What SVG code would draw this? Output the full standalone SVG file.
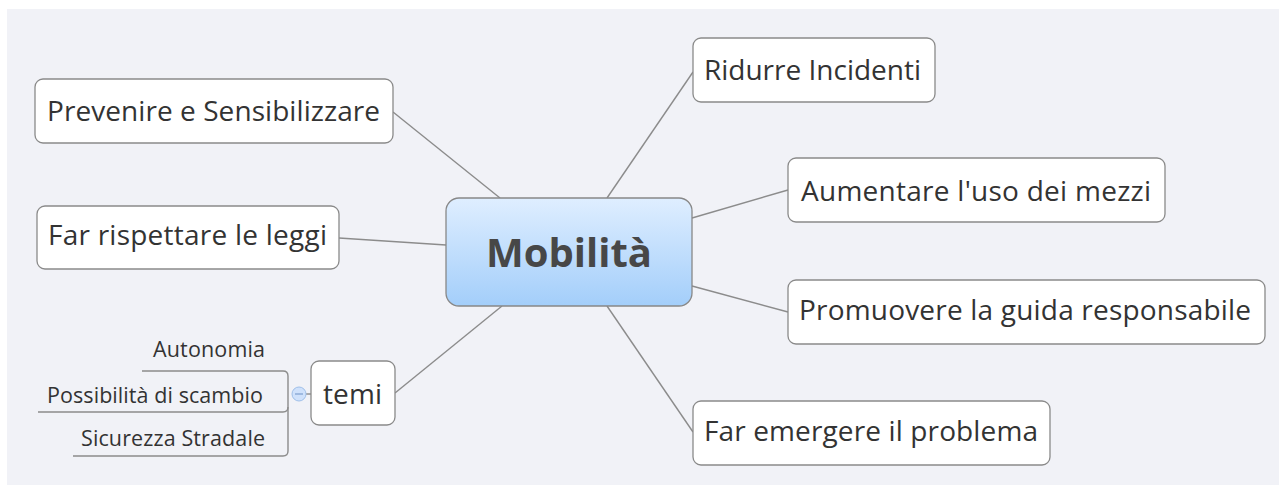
<svg xmlns="http://www.w3.org/2000/svg" width="1279" height="485" viewBox="0 0 1279 485">
<defs>
<linearGradient id="cg" x1="0" y1="0" x2="0" y2="1">
<stop offset="0" stop-color="#dfeeff"/>
<stop offset="1" stop-color="#a3cefa"/>
</linearGradient>
<style>
.box{fill:#ffffff;stroke:#8a8a8a;stroke-width:1.3}
.t{font-family:"Open Sans","DejaVu Sans",sans-serif;font-size:28px;fill:#333333}
.s{font-family:"Open Sans","DejaVu Sans",sans-serif;font-size:21.5px;fill:#333333}
.ln{stroke:#8c8c8c;stroke-width:1.4;fill:none}
</style>
</defs>
<rect x="0" y="0" width="1279" height="485" fill="#ffffff"/>
<rect x="7" y="9" width="1272" height="476" fill="#f1f2f7"/>
<g id="connectors">
<line class="ln" x1="393" y1="112" x2="500" y2="198"/>
<line class="ln" x1="339" y1="238" x2="446" y2="245"/>
<line class="ln" x1="395" y1="393" x2="502" y2="306"/>
<line class="ln" x1="607" y1="198" x2="693" y2="72"/>
<line class="ln" x1="692" y1="218" x2="788" y2="190"/>
<line class="ln" x1="692" y1="286" x2="788" y2="312"/>
<line class="ln" x1="607" y1="306" x2="693" y2="432"/>
<path class="ln" d="M142 371 H283 Q288 371 288 376 V451 Q288 456 283 456 H73"/>
<path class="ln" d="M38 412 H283 Q288 412 288 407"/>
<line class="ln" x1="306" y1="394" x2="311" y2="394"/>
</g>
<g id="central">
<rect x="446" y="198" width="246" height="108" rx="13" fill="url(#cg)" stroke="#888888" stroke-width="1.3"/>
<text x="569" y="267" text-anchor="middle" font-family="'Open Sans','DejaVu Sans',sans-serif" font-size="40" font-weight="bold" fill="#474747">Mobilità</text>
</g>
<g id="n-prevenire">
<rect class="box" x="35" y="79" width="358" height="64" rx="8"/>
<text class="t" x="47" y="121" textLength="333">Prevenire e Sensibilizzare</text>
</g>
<g id="n-leggi">
<rect class="box" x="37" y="206" width="302" height="63" rx="8"/>
<text class="t" x="48" y="245" textLength="279">Far rispettare le leggi</text>
</g>
<g id="n-temi">
<rect class="box" x="311" y="361" width="84" height="64" rx="8"/>
<text class="t" x="323" y="404" textLength="59">temi</text>
</g>
<g id="collapse">
<circle cx="299" cy="394" r="7" fill="#cfe1fb" stroke="#9fbfe9" stroke-width="1"/>
<line x1="295" y1="394" x2="303" y2="394" stroke="#7d9fcf" stroke-width="1.2"/>
</g>
<g id="n-autonomia">
<text class="s" x="153" y="357" textLength="112">Autonomia</text>
</g>
<g id="n-scambio">
<text class="s" x="47" y="403" textLength="216">Possibilità di scambio</text>
</g>
<g id="n-sicurezza">
<text class="s" x="81" y="446" textLength="184">Sicurezza Stradale</text>
</g>
<g id="n-ridurre">
<rect class="box" x="693" y="38" width="242" height="64" rx="8"/>
<text class="t" x="704" y="80" textLength="217">Ridurre Incidenti</text>
</g>
<g id="n-aumentare">
<rect class="box" x="788" y="158" width="377" height="64" rx="8"/>
<text class="t" x="801" y="201" textLength="350">Aumentare l'uso dei mezzi</text>
</g>
<g id="n-promuovere">
<rect class="box" x="788" y="280" width="477" height="64" rx="8"/>
<text class="t" x="799" y="320" textLength="452">Promuovere la guida responsabile</text>
</g>
<g id="n-emergere">
<rect class="box" x="693" y="401" width="357" height="64" rx="8"/>
<text class="t" x="704" y="441" textLength="334">Far emergere il problema</text>
</g>
</svg>
